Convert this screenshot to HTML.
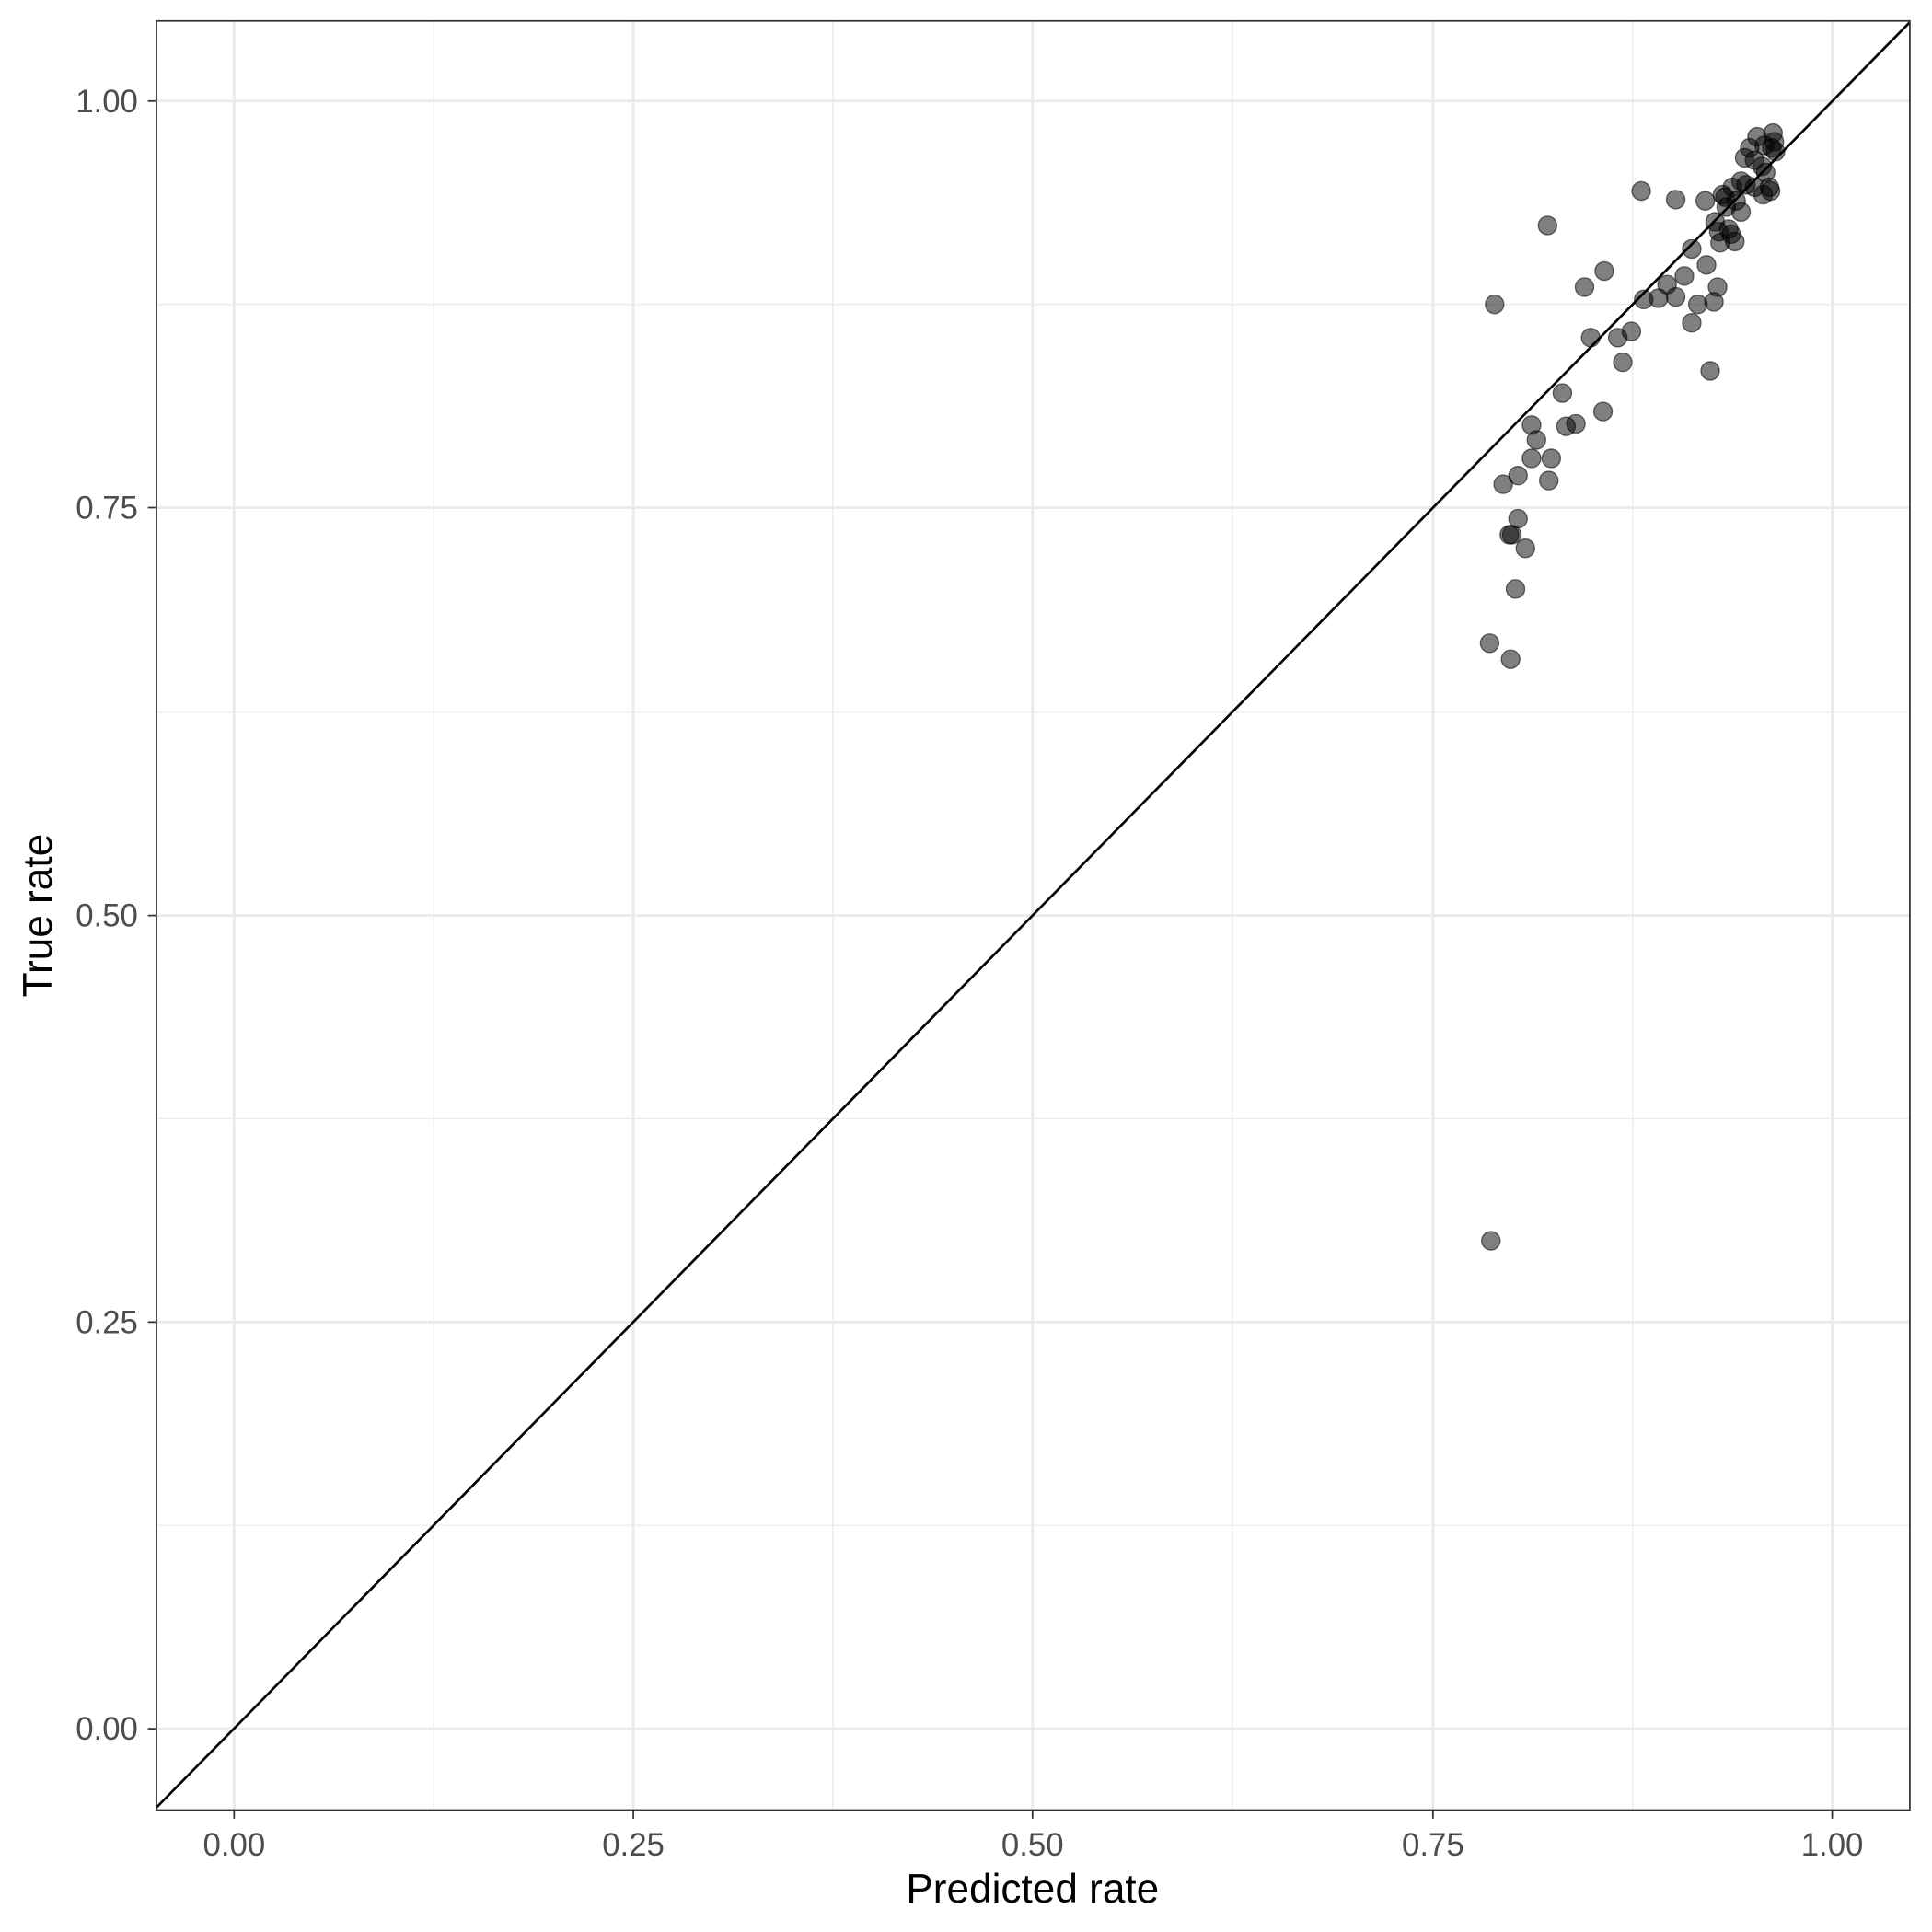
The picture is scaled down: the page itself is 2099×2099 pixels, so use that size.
<!DOCTYPE html>
<html><head><meta charset="utf-8"><style>html,body{margin:0;padding:0;background:#fff}svg{display:block}</style></head><body>
<svg width="2099" height="2099" viewBox="0 0 1568 1568" xmlns="http://www.w3.org/2000/svg" font-family="Liberation Sans, sans-serif">
<rect width="1568" height="1568" fill="#fff"/>
<g stroke="#ebebeb" stroke-width="1">
<line x1="352" y1="17" x2="352" y2="1469"/><line x1="676" y1="17" x2="676" y2="1469"/><line x1="1000" y1="17" x2="1000" y2="1469"/><line x1="1325" y1="17" x2="1325" y2="1469"/>
<line x1="127" y1="247" x2="1550" y2="247"/><line x1="127" y1="578" x2="1550" y2="578"/><line x1="127" y1="908" x2="1550" y2="908"/><line x1="127" y1="1238" x2="1550" y2="1238"/>
</g>
<g stroke="#ebebeb" stroke-width="2.2">
<line x1="190" y1="17" x2="190" y2="1469"/><line x1="514" y1="17" x2="514" y2="1469"/><line x1="838" y1="17" x2="838" y2="1469"/><line x1="1163" y1="17" x2="1163" y2="1469"/><line x1="1487" y1="17" x2="1487" y2="1469"/>
<line x1="127" y1="82" x2="1550" y2="82"/><line x1="127" y1="412" x2="1550" y2="412"/><line x1="127" y1="743" x2="1550" y2="743"/><line x1="127" y1="1073" x2="1550" y2="1073"/><line x1="127" y1="1403" x2="1550" y2="1403"/>
</g>
<defs><clipPath id="c"><rect x="127" y="17" width="1423" height="1452"/></clipPath></defs>
<line x1="125" y1="1469" x2="1552" y2="16" stroke="#000" stroke-width="2" clip-path="url(#c)"/>
<g fill="#000" fill-opacity="0.5" stroke="#000" stroke-opacity="0.55" stroke-width="1">
<circle cx="1213" cy="247" r="7.5"/><circle cx="1256" cy="183" r="7.5"/><circle cx="1332" cy="155" r="7.5"/><circle cx="1360" cy="162" r="7.5"/><circle cx="1384" cy="163" r="7.5"/><circle cx="1286" cy="233" r="7.5"/><circle cx="1302" cy="220" r="7.5"/><circle cx="1291" cy="274" r="7.5"/><circle cx="1313" cy="274" r="7.5"/><circle cx="1324" cy="269" r="7.5"/><circle cx="1317" cy="294" r="7.5"/><circle cx="1334" cy="243" r="7.5"/><circle cx="1346" cy="242" r="7.5"/><circle cx="1353" cy="231" r="7.5"/><circle cx="1360" cy="241" r="7.5"/><circle cx="1367" cy="224" r="7.5"/><circle cx="1378" cy="247" r="7.5"/><circle cx="1373" cy="262" r="7.5"/><circle cx="1385" cy="215" r="7.5"/><circle cx="1394" cy="233" r="7.5"/><circle cx="1391" cy="245" r="7.5"/><circle cx="1388" cy="301" r="7.5"/><circle cx="1301" cy="334" r="7.5"/><circle cx="1268" cy="319" r="7.5"/><circle cx="1271" cy="346" r="7.5"/><circle cx="1279" cy="344" r="7.5"/><circle cx="1243" cy="345" r="7.5"/><circle cx="1247" cy="357" r="7.5"/><circle cx="1243" cy="372" r="7.5"/><circle cx="1259" cy="372" r="7.5"/><circle cx="1257" cy="390" r="7.5"/><circle cx="1232" cy="386" r="7.5"/><circle cx="1220" cy="393" r="7.5"/><circle cx="1232" cy="421" r="7.5"/><circle cx="1225" cy="434" r="7.5"/><circle cx="1227" cy="434" r="7.5"/><circle cx="1238" cy="445" r="7.5"/><circle cx="1230" cy="478" r="7.5"/><circle cx="1209" cy="522" r="7.5"/><circle cx="1226" cy="535" r="7.5"/><circle cx="1210" cy="1007" r="7.5"/><circle cx="1373" cy="202" r="7.5"/><circle cx="1396" cy="197" r="7.5"/><circle cx="1395" cy="188" r="7.5"/><circle cx="1408" cy="196" r="7.5"/><circle cx="1403" cy="186" r="7.5"/><circle cx="1405" cy="190" r="7.5"/><circle cx="1398" cy="158" r="7.5"/><circle cx="1401" cy="168" r="7.5"/><circle cx="1413" cy="172" r="7.5"/><circle cx="1409" cy="163" r="7.5"/><circle cx="1406" cy="152" r="7.5"/><circle cx="1413" cy="147" r="7.5"/><circle cx="1417" cy="150" r="7.5"/><circle cx="1424" cy="152" r="7.5"/><circle cx="1431" cy="158" r="7.5"/><circle cx="1437" cy="155" r="7.5"/><circle cx="1436" cy="152" r="7.5"/><circle cx="1416" cy="128" r="7.5"/><circle cx="1424" cy="130" r="7.5"/><circle cx="1426" cy="111" r="7.5"/><circle cx="1420" cy="120" r="7.5"/><circle cx="1432" cy="118" r="7.5"/><circle cx="1439" cy="108" r="7.5"/><circle cx="1440" cy="115" r="7.5"/><circle cx="1441" cy="123" r="7.5"/><circle cx="1430" cy="135" r="7.5"/><circle cx="1433" cy="140" r="7.5"/><circle cx="1438" cy="120" r="7.5"/><circle cx="1400" cy="160" r="7.5"/><circle cx="1392" cy="180" r="7.5"/>
</g>
<rect x="127" y="17" width="1423" height="1452" fill="none" stroke="#333" stroke-width="1.3"/>
<g stroke="#333" stroke-width="1.3">
<line x1="190" y1="1469" x2="190" y2="1476"/><line x1="514" y1="1469" x2="514" y2="1476"/><line x1="838" y1="1469" x2="838" y2="1476"/><line x1="1163" y1="1469" x2="1163" y2="1476"/><line x1="1487" y1="1469" x2="1487" y2="1476"/>
<line x1="120" y1="82" x2="127" y2="82"/><line x1="120" y1="412" x2="127" y2="412"/><line x1="120" y1="743" x2="127" y2="743"/><line x1="120" y1="1073" x2="127" y2="1073"/><line x1="120" y1="1403" x2="127" y2="1403"/>
</g>
<g fill="#4d4d4d" font-size="26" text-anchor="middle">
<text x="190" y="1506">0.00</text><text x="514" y="1506">0.25</text><text x="838" y="1506">0.50</text><text x="1163" y="1506">0.75</text><text x="1487" y="1506">1.00</text>
</g>
<g fill="#4d4d4d" font-size="26" text-anchor="end">
<text x="112" y="91">1.00</text><text x="112" y="421">0.75</text><text x="112" y="752">0.50</text><text x="112" y="1082">0.25</text><text x="112" y="1412">0.00</text>
</g>
<text x="838" y="1544" font-size="33" text-anchor="middle" fill="#000">Predicted rate</text>
<text transform="translate(42,743) rotate(-90)" font-size="33" text-anchor="middle" fill="#000">True rate</text>
</svg>
</body></html>
